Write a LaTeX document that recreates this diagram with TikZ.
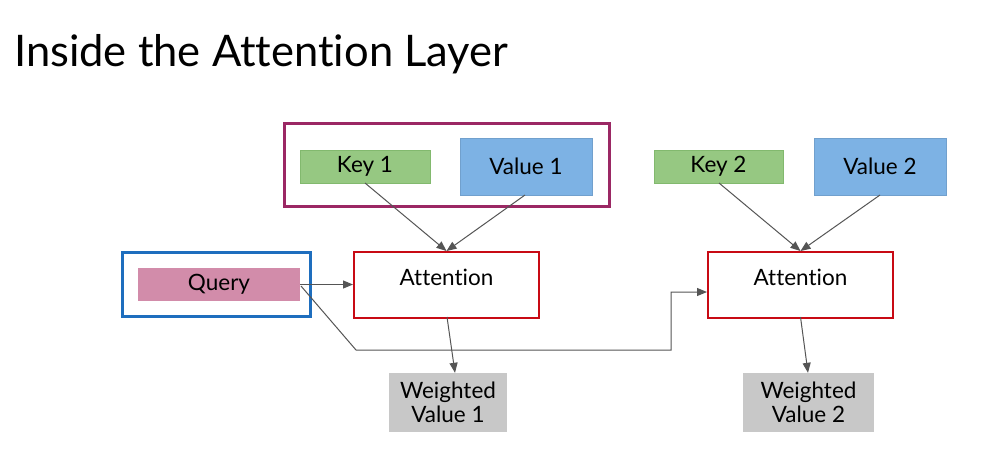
\documentclass[tikz,border=0pt]{standalone}
\usepackage{fontspec}
\setmainfont{Lato}[Ligatures={NoCommon}]
\usetikzlibrary{arrows.meta}
\definecolor{grpPurple}{RGB}{155,40,100}
\definecolor{keyGreen}{RGB}{150,200,130}
\definecolor{keyGreenB}{RGB}{130,185,110}
\definecolor{valBlue}{RGB}{125,178,228}
\definecolor{attRed}{RGB}{200,10,20}
\definecolor{qBlue}{RGB}{30,110,190}
\definecolor{qPink}{RGB}{210,140,170}
\definecolor{wGray}{RGB}{200,200,200}
\definecolor{lineGray}{RGB}{85,85,85}
\begin{document}
\begin{tikzpicture}[x=1pt,y=-1pt,
  box/.style={rectangle,inner sep=0pt,align=center,font=\fontsize{22.5}{25}\selectfont},
  keybox/.style={box,fill=keyGreen,draw=keyGreenB,line width=0.8pt},
  valbox/.style={box,fill=valBlue,draw=valBlue!90!black,line width=0.6pt},
  attbox/.style={box,draw=attRed,line width=2pt,fill=white},
  wbox/.style={box,fill=wGray},
  conn/.style={draw=lineGray,line width=1pt,-{Triangle[length=10pt,width=8pt]}}
]
\useasboundingbox (0,0) rectangle (983,472);
\fill[white] (0,0) rectangle (983,472);
\node[anchor=base west,inner sep=0pt,font=\fontsize{43.5}{48}\selectfont] (title) at (14,66) {Inside the Attention Layer};
% group boxes
\node[draw=grpPurple,line width=3pt,rectangle,inner sep=0pt,minimum width=325pt,minimum height=83pt] (grp) at (446.5,164.5) {};
\node[draw=qBlue,line width=3pt,rectangle,inner sep=0pt,minimum width=188pt,minimum height=64pt] (qgrp) at (216,284) {};
% key/value
\node[keybox,minimum width=130pt,minimum height=33pt] (k1) at (365,166.5) {Key 1};
\node[valbox,minimum width=132pt,minimum height=57pt] (v1) at (526,166.5) {Value 1};
\node[keybox,minimum width=129pt,minimum height=33pt] (k2) at (718.5,166.5) {Key 2};
\node[valbox,minimum width=132pt,minimum height=57pt] (v2) at (880,166.5) {Value 2};
% attention
\node[attbox,minimum width=185pt,minimum height=66pt,anchor=north] (a1) at (446.5,251) {};
\node[font=\fontsize{22.5}{25}\selectfont,inner sep=0pt] (a1t) at (446.5,277) {Attention};
\node[attbox,minimum width=185pt,minimum height=66pt,anchor=north] (a2) at (800.5,251) {};
\node[font=\fontsize{22.5}{25}\selectfont,inner sep=0pt] (a2t) at (800.5,277) {Attention};
% query
\node[box,fill=qPink,minimum width=162pt,minimum height=33pt] (q) at (219,284.5) {Query};
% weighted values
\node[wbox,minimum width=118pt,minimum height=59pt] (w1) at (448,402.5) {Weighted\\[-1pt]Value 1};
\node[wbox,minimum width=131pt,minimum height=59pt] (w2) at (808.5,402.5) {Weighted\\[-1pt]Value 2};
% connectors
\coordinate (a1top) at (446.5,251);
\coordinate (a2top) at (800.5,251);
\draw[conn] (365,183) -- (a1top);
\draw[conn] (525,195) -- (a1top);
\draw[conn] (719,183) -- (a2top);
\draw[conn] (880,195) -- (a2top);
\draw[conn] (q.east) -- (a1.west |- q.east);
\coordinate (b1) at (356,350);
\coordinate (b2) at (671,350);
\coordinate (b3) at (671,292);
\draw[conn] (301,286) -- (b1) -- (b2) -- (b3) -- (a2.west |- b3);
\draw[conn] (447,317) -- (w1.north -| 455,0);
\draw[conn] (800.5,317) -- (w2.north -| 808,0);
\end{tikzpicture}
\end{document}
